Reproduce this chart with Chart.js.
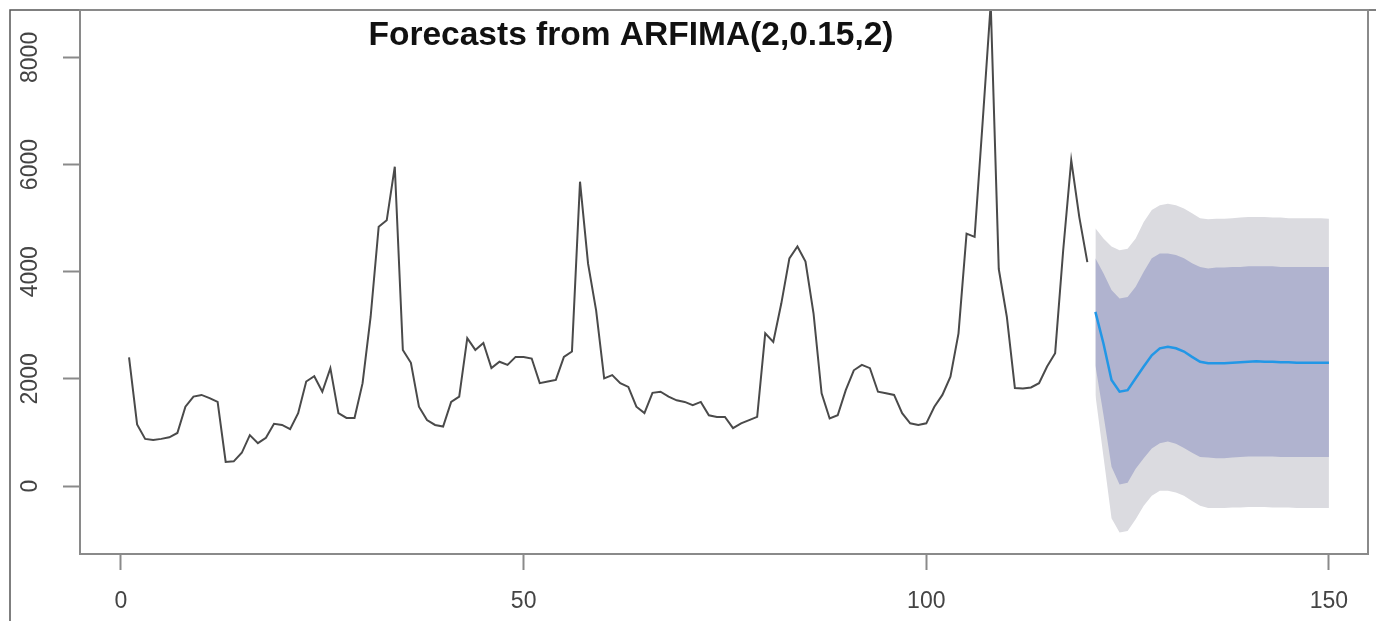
<!DOCTYPE html>
<html>
<head>
<meta charset="utf-8">
<title>Forecasts from ARFIMA(2,0.15,2)</title>
<script src="https://cdn.jsdelivr.net/npm/chart.js@4.4.1/dist/chart.umd.min.js"></script>
<style>
    body { margin: 0; background: #fff; }
    #wrap { width: 1376px; height: 621px; }
</style>
</head>
<body>
<div id="wrap"><canvas id="arfimaChart" width="1376" height="621"></canvas></div>
<script>
// Observed series (t = 1..120)
const observed = [
    2400, 1150, 880, 860, 880, 910, 990, 1480, 1670, 1700,
    1640, 1570, 450, 460, 620, 950, 800, 900, 1160, 1140,
    1060, 1360, 1950, 2050, 1760, 2200, 1360, 1270, 1270, 1920,
    3160, 4840, 4960, 5960, 2540, 2300, 1480, 1230, 1140, 1110,
    1570, 1670, 2760, 2540, 2670, 2200, 2320, 2260, 2410, 2410,
    2380, 1920, 1950, 1980, 2410, 2510, 5680, 4150, 3280, 2010,
    2070, 1920, 1850, 1480, 1360, 1740, 1760, 1670, 1600, 1570,
    1510, 1570, 1320, 1290, 1290, 1080, 1170, 1230, 1290, 2850,
    2690, 3410, 4250, 4470, 4190, 3220, 1730, 1260, 1320, 1790,
    2160, 2260, 2200, 1760, 1730, 1700, 1360, 1170, 1140, 1170,
    1480, 1700, 2040, 2850, 4710, 4650, 6800, 9000, 4050, 3160,
    1830, 1820, 1840, 1920, 2230, 2480, 4400, 6080, 5020, 4180
];

// Forecast (t = 121..150) with 80% and 95% intervals
const fcMean = [
    3250, 2660, 1980, 1760, 1790, 2010, 2230, 2440, 2570, 2600,
    2570, 2510, 2410, 2320, 2290, 2290, 2290, 2300, 2310, 2320,
    2330, 2320, 2320, 2310, 2310, 2300, 2300, 2300, 2300, 2300
];
const hi80 = [
    4250, 3970, 3660, 3500, 3530, 3720, 4000, 4250, 4340, 4340,
    4310, 4250, 4160, 4090, 4060, 4080, 4080, 4090, 4090, 4100,
    4100, 4100, 4100, 4090, 4090, 4090, 4090, 4090, 4090, 4090
];
const lo80 = [
    2250, 1330, 360, 30, 60, 320, 520, 700, 800, 830,
    790, 710, 620, 540, 530, 520, 520, 530, 540, 550,
    550, 550, 550, 540, 540, 540, 540, 540, 540, 540
];
const hi95 = [
    4810, 4620, 4470, 4400, 4430, 4620, 4930, 5150, 5240, 5270,
    5240, 5180, 5090, 5000, 4980, 4990, 4990, 5000, 5010, 5020,
    5020, 5020, 5010, 5010, 5000, 5000, 5000, 5000, 5000, 4990
];
const lo95 = [
    1700, 550, -600, -870, -840, -620, -370, -180, -90, -90,
    -120, -180, -280, -370, -410, -410, -410, -400, -400, -390,
    -390, -390, -400, -400, -400, -410, -410, -410, -410, -410
];

// Axis ticks
const xTicks = [0, 50, 100, 150];
const yTicks = [0, 2000, 4000, 6000, 8000];

const titleText = 'Forecasts from ARFIMA(2,0.15,2)';
const fcStart = observed.length + 1;

// turn a series into {x, y} points starting at time t0
function toPoints(values, t0) {
    return values.map((v, i) => ({ x: t0 + i, y: v }));
}

// Draws the R-like box, outer frame, title and tick labels
const rStylePlugin = {
    id: 'rStyle',
    afterDraw(chart) {
        const ctx = chart.ctx;
        const area = chart.chartArea;
        const xs = chart.scales.x;
        const ys = chart.scales.y;

        ctx.save();

        // outer frame of the picture
        ctx.strokeStyle = '#555';
        ctx.lineWidth = 1.5;
        ctx.beginPath();
        ctx.moveTo(10, 621);
        ctx.lineTo(10, 10);
        ctx.lineTo(1376, 10);
        ctx.stroke();

        // plot box
        ctx.strokeStyle = '#8a8a8a';
        ctx.lineWidth = 2;
        ctx.strokeRect(area.left, area.top, area.right - area.left, area.bottom - area.top);

        // title
        ctx.fillStyle = '#111';
        ctx.font = 'bold 33.5px "Liberation Sans", Arial, sans-serif';
        ctx.textAlign = 'center';
        ctx.textBaseline = 'alphabetic';
        ctx.fillText(titleText, 631, 45);

        // x tick labels
        ctx.fillStyle = '#444';
        ctx.font = '23px "Liberation Sans", Arial, sans-serif';
        ctx.textBaseline = 'middle';
        xTicks.forEach(t => {
            ctx.fillText(String(t), xs.getPixelForValue(t), 602);
        });

        // y tick labels, rotated like R's default
        yTicks.forEach(t => {
            ctx.save();
            ctx.translate(31, ys.getPixelForValue(t));
            ctx.rotate(-Math.PI / 2);
            ctx.fillText(String(t), 0, 0);
            ctx.restore();
        });

        ctx.restore();
    }
};

document.addEventListener('DOMContentLoaded', function() {
    const ctx = document.getElementById('arfimaChart');

    new Chart(ctx, {
        type: 'line',
        data: {
            datasets: [{
                label: 'Observed',
                data: toPoints(observed, 1),
                borderColor: '#4a4a4a',
                borderWidth: 2,
                pointRadius: 0,
                fill: false,
                order: 0
            }, {
                label: 'Forecast',
                data: toPoints(fcMean, fcStart),
                borderColor: '#2297E6',
                borderWidth: 2.5,
                pointRadius: 0,
                fill: false,
                order: 1
            }, {
                label: '80% upper',
                data: toPoints(hi80, fcStart),
                borderWidth: 0,
                pointRadius: 0,
                backgroundColor: '#B0B3CF',
                fill: 3,
                order: 2
            }, {
                label: '80% lower',
                data: toPoints(lo80, fcStart),
                borderWidth: 0,
                pointRadius: 0,
                fill: false,
                order: 3
            }, {
                label: '95% upper',
                data: toPoints(hi95, fcStart),
                borderWidth: 0,
                pointRadius: 0,
                backgroundColor: '#DBDBE0',
                fill: 5,
                order: 4
            }, {
                label: '95% lower',
                data: toPoints(lo95, fcStart),
                borderWidth: 0,
                pointRadius: 0,
                fill: false,
                order: 5
            }]
        },
        options: {
            responsive: false,
            devicePixelRatio: 1,
            animation: false,
            layout: {
                padding: { top: 10, right: 8, left: 0, bottom: 0 }
            },
            plugins: {
                legend: { display: false },
                tooltip: { enabled: false },
                title: { display: false }
            },
            elements: {
                line: { tension: 0 }
            },
            scales: {
                x: {
                    type: 'linear',
                    min: -5.09,
                    max: 154.85,
                    border: { display: false },
                    grid: {
                        drawOnChartArea: false,
                        drawTicks: true,
                        tickLength: 16,
                        tickWidth: 2,
                        tickColor: '#8a8a8a'
                    },
                    ticks: { display: false },
                    afterBuildTicks: s => { s.ticks = xTicks.map(v => ({ value: v })); },
                    afterFit: s => { s.height = 67; }
                },
                y: {
                    type: 'linear',
                    min: -1269,
                    max: 8885,
                    border: { display: false },
                    grid: {
                        drawOnChartArea: false,
                        drawTicks: true,
                        tickLength: 17,
                        tickWidth: 2,
                        tickColor: '#8a8a8a'
                    },
                    ticks: { display: false },
                    afterBuildTicks: s => { s.ticks = yTicks.map(v => ({ value: v })); },
                    afterFit: s => { s.width = 80; }
                }
            }
        },
        plugins: [rStylePlugin]
    });
});
</script>
</body>
</html>
